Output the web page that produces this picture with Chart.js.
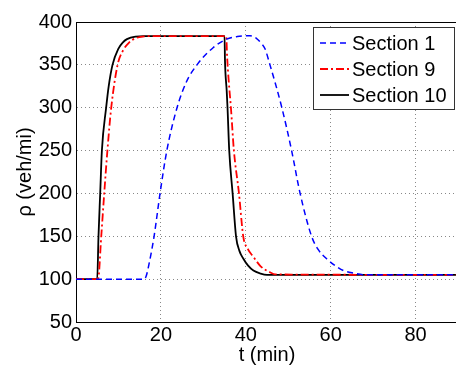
<!DOCTYPE html>
<html>
<head>
<meta charset="utf-8">
<script src="https://cdn.jsdelivr.net/npm/chart.js@4.4.0/dist/chart.umd.min.js"></script>
<style>
  html, body { margin: 0; padding: 0; overflow: hidden; background: #fff; }
  #wrap { position: absolute; left: 0; top: 0; width: 458px; height: 367px; }
</style>
</head>
<body>
<div id="wrap"><canvas id="chart"></canvas></div>
<script>
// time (min) and density (veh/mi)
var tSec1 = [0, 16, 16.5, 17.3, 18.4, 19.8, 21.4, 23.8, 26, 28.5, 32.3, 35.5, 38, 41, 42.5, 43.5, 44.5, 45.7, 48.5, 50.8, 52.8, 55.5, 57, 59, 61, 63, 65.5, 68.5, 90];
var rhoSec1 = [100, 100, 103, 120, 150, 200, 250, 300, 330, 350, 370, 380, 383, 384, 381, 376, 369, 350, 300, 250, 200, 150, 135, 124, 116, 110, 107, 105, 105];

var tSec9 = [0, 5.2, 5.95, 6.65, 7.4, 8.3, 9.8, 11, 12.5, 14, 17.5, 35.4, 35.6, 36, 36.5, 37.2, 38.4, 39.4, 40.5, 41.8, 43.5, 45.7, 47, 90];
var rhoSec9 = [100, 100, 150, 200, 250, 300, 350, 366, 376, 381, 383.5, 383.5, 360, 330, 300, 250, 200, 150, 135, 126, 115, 108, 105.5, 105];

var tSec10 = [0, 5, 5.3, 5.7, 6.1, 7.1, 7.7, 8.6, 10, 11, 12, 14, 16, 35, 35.1, 35.5, 35.7, 36.1, 36.9, 37.7, 38.5, 39.4, 40.5, 41.8, 43.5, 45, 90];
var rhoSec10 = [100, 100, 150, 200, 250, 300, 325, 350, 369, 376, 380, 383, 383.5, 383.5, 355, 320, 300, 250, 200, 150, 133, 124, 116, 110, 106.5, 105, 105];

var seriesNames = ['Section 1', 'Section 9', 'Section 10'];
var xTicks = [0, 20, 40, 60, 80];

var FONT = '"Liberation Sans", Arial, sans-serif';

function pts(t, r) {
    return t.map(function (v, i) { return { x: v, y: r[i] }; });
}

// matlab-style legend box inside the axes, plus the top frame line
var boxLegend = {
    id: 'boxLegend',
    afterDraw: function (chart) {
        var ctx = chart.ctx;
        var a = chart.chartArea;
        ctx.save();
        ctx.strokeStyle = '#000';
        ctx.lineWidth = 1;
        ctx.beginPath();
        ctx.moveTo(a.left, a.top + 0.5);
        ctx.lineTo(a.right, a.top + 0.5);
        ctx.stroke();

        var bx = 313, by = 27, bw = 141, bh = 82;
        ctx.fillStyle = '#fff';
        ctx.fillRect(bx, by, bw, bh);
        ctx.strokeStyle = '#333';
        ctx.strokeRect(bx + 0.5, by + 0.5, bw, bh);

        ctx.font = '20px ' + FONT;
        ctx.textBaseline = 'middle';
        chart.data.datasets.forEach(function (ds, i) {
            var y = 43 + i * 26;
            ctx.strokeStyle = ds.borderColor;
            ctx.lineWidth = ds.borderWidth;
            ctx.setLineDash(ds.borderDash || []);
            ctx.beginPath();
            ctx.moveTo(320, y);
            ctx.lineTo(349, y);
            ctx.stroke();
            ctx.setLineDash([]);
            ctx.fillStyle = '#000';
            ctx.fillText(ds.label, 352, y + 1);
        });
        ctx.restore();
    }
};

var config = {
    type: 'scatter',
    data: {
        datasets: [{
                label: seriesNames[0],
                data: pts(tSec1, rhoSec1),
                borderColor: '#0000ff',
                borderWidth: 1.5,
                borderDash: [6, 4],
            }, {
                label: seriesNames[1],
                data: pts(tSec9, rhoSec9),
                borderColor: '#ff0000',
                borderWidth: 1.8,
                borderDash: [8, 3, 2, 3],
            }, {
                label: seriesNames[2],
                data: pts(tSec10, rhoSec10),
                borderColor: '#000000',
                borderWidth: 1.8,
            }]
    },
    options: {
        responsive: true,
        maintainAspectRatio: false,
        animation: false,
        layout: { padding: { top: 22, right: 0, left: 0, bottom: 0 } },
        elements: {
            point: { radius: 0 },
            line: { cubicInterpolationMode: 'monotone', fill: false }
        },
        datasets: { scatter: { showLine: true } },
        plugins: {
            legend: { display: false },
            tooltip: { enabled: false }
        },
        scales: {
            x: {
                type: 'linear',
                min: 0,
                max: 90,
                afterBuildTicks: function (scale) {
                    scale.ticks = xTicks.map(function (v) { return { value: v }; });
                },
                afterFit: function (scale) { scale.height = 45; },
                ticks: { color: '#000', font: { family: FONT, size: 20 }, padding: 1, maxRotation: 0 },
                grid: { color: '#888', lineWidth: 1, drawTicks: false },
                border: { color: '#000', width: 1, dash: [1, 3] },
                title: { display: true, text: 't (min)', color: '#000', font: { family: FONT, size: 20 }, padding: { top: -6, bottom: 0 } }
            },
            y: {
                min: 50,
                max: 400,
                ticks: { stepSize: 50, color: '#000', font: { family: FONT, size: 20 }, padding: 4 },
                afterFit: function (scale) { scale.width = 76; },
                grid: { color: '#888', lineWidth: 1, drawTicks: false },
                border: { color: '#000', width: 1, dash: [1, 3] },
                title: { display: true, text: 'ρ (veh/mi)', color: '#000', font: { family: FONT, size: 20 }, padding: { top: 13, bottom: 0 } }
            }
        }
    },
    plugins: [boxLegend]
};

var ctx = document.getElementById('chart').getContext('2d');
var myChart = new Chart(ctx, config);
</script>
</body>
</html>
